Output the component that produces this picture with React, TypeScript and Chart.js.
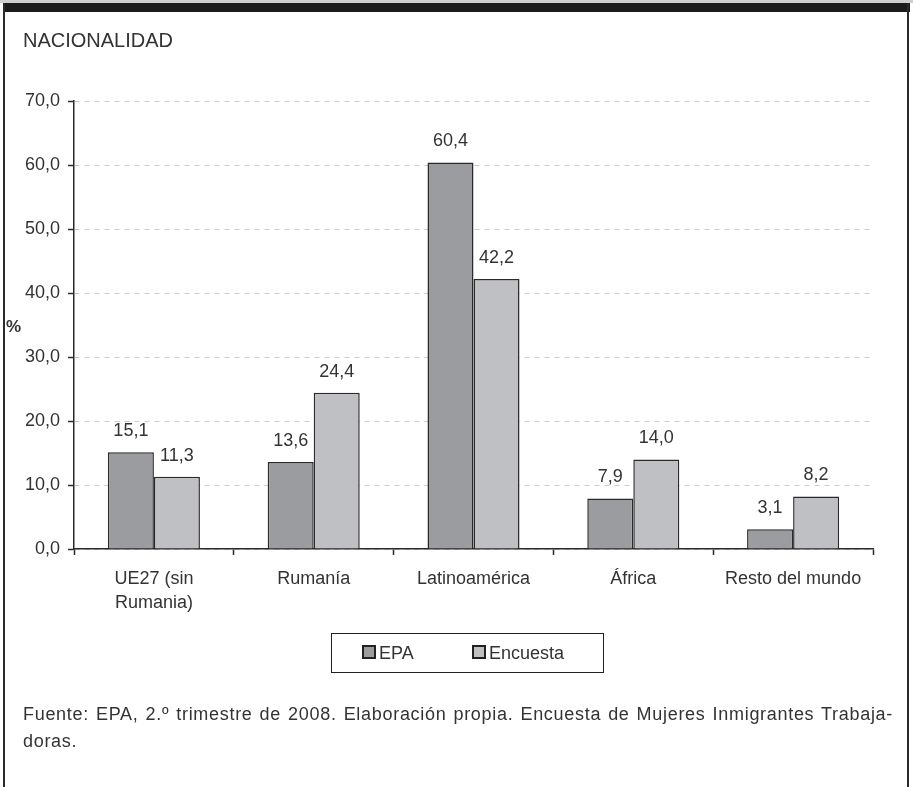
import React, { useEffect, useRef } from "react";
import { Chart, registerables } from "chart.js";

Chart.register(...registerables);

const categories: (string | string[])[] = [
  ["UE27 (sin", "Rumania)"],
  "Rumanía",
  "Latinoamérica",
  "África",
  "Resto del mundo",
];
const epaValues = [15.1, 13.6, 60.4, 7.9, 3.1];
const encuestaValues = [11.3, 24.4, 42.2, 14.0, 8.2];
const seriesNames = ["EPA", "Encuesta"];
const yTicks = { min: 0, max: 70, step: 10 };

const FONT = "'Liberation Sans', Arial, Helvetica, sans-serif";
const TEXT = "#333333";
const DARK = "#9b9ca0";
const LIGHT = "#bfc0c4";
const EDGE = "#2a2a2a";

const fmt = (v: number) => v.toFixed(1).replace(".", ",");

const valueLabels = {
  id: "valueLabels",
  afterDatasetsDraw(chart: any) {
    const ctx = chart.ctx;
    ctx.save();
    ctx.font = `18px ${FONT}`;
    ctx.fillStyle = TEXT;
    ctx.textAlign = "center";
    ctx.textBaseline = "middle";
    chart.data.datasets.forEach((ds: any, di: number) => {
      const meta = chart.getDatasetMeta(di);
      meta.data.forEach((bar: any, i: number) => {
        ctx.fillText(fmt(ds.data[i]), bar.x, bar.y - 21);
      });
    });
    ctx.restore();
  },
};

export default function App() {
  const ref = useRef<HTMLCanvasElement>(null);

  useEffect(() => {
    if (!ref.current) return;
    const chart = new Chart(ref.current, {
      type: "bar",
      data: {
        labels: categories,
        datasets: [
          {
            label: seriesNames[0],
            data: epaValues,
            backgroundColor: DARK,
            borderColor: EDGE,
            borderWidth: 1.5,
            categoryPercentage: 0.576,
            barPercentage: 1,
          },
          {
            label: seriesNames[1],
            data: encuestaValues,
            backgroundColor: LIGHT,
            borderColor: EDGE,
            borderWidth: 1.5,
            categoryPercentage: 0.576,
            barPercentage: 1,
          },
        ],
      },
      options: {
        animation: false,
        responsive: false,
        maintainAspectRatio: false,
        layout: { padding: { top: 101, right: 40, left: 0, bottom: 0 } },
        plugins: {
          legend: { display: false },
          tooltip: { enabled: false },
          title: { display: false },
        },
        scales: {
          x: {
            offset: true,
            grid: {
              offset: true,
              drawOnChartArea: false,
              drawTicks: true,
              tickLength: 6,
              tickColor: EDGE,
              tickWidth: 1.5,
            },
            border: { display: true, color: EDGE, width: 1.5 },
            ticks: {
              color: TEXT,
              font: { family: FONT, size: 18, lineHeight: 1.33 },
              padding: 12,
              maxRotation: 0,
              autoSkip: false,
            },
            afterFit: (s: any) => {
              s.height = 787 - 549;
            },
          },
          y: {
            min: yTicks.min,
            max: yTicks.max,
            ticks: {
              stepSize: yTicks.step,
              color: TEXT,
              font: { family: FONT, size: 18 },
              padding: 8,
              callback: (v: any) => fmt(Number(v)),
            },
            grid: {
              color: "#cbcbcb",
              lineWidth: 1,
              drawTicks: true,
              tickLength: 6,
              tickColor: EDGE,
              tickWidth: 1.5,
            },
            border: { display: true, color: EDGE, width: 1.5, dash: [5, 5] },
            afterFit: (s: any) => {
              s.width = 74;
            },
          },
        },
      },
      plugins: [valueLabels],
    });
    return () => chart.destroy();
  }, []);

  const text: React.CSSProperties = {
    position: "absolute",
    fontFamily: FONT,
    color: TEXT,
    whiteSpace: "nowrap",
  };

  const swatch = (bg: string): React.CSSProperties => ({
    display: "inline-block",
    width: 10,
    height: 10,
    background: bg,
    border: "2px solid #222",
    marginRight: 3,
    verticalAlign: "middle",
    position: "relative",
    top: -2,
  });

  return (
    <div
      style={{
        position: "absolute",
        left: 0,
        top: 0,
        width: 913,
        height: 787,
        background: "#fff",
        overflow: "hidden",
      }}
    >
      <canvas ref={ref} width={913} height={787} style={{ position: "absolute", left: 0, top: 0 }} />
      {/* frame */}
      <div style={{ position: "absolute", left: 0, top: 0, width: 913, height: 3, background: "#cfcfcf" }} />
      <div style={{ position: "absolute", left: 3, top: 3, width: 907, height: 9, background: "#1c1c1c" }} />
      <div style={{ position: "absolute", left: 3, top: 3, width: 2, height: 784, background: "#2a2a2a" }} />
      <div style={{ position: "absolute", left: 907, top: 3, width: 2, height: 784, background: "#2a2a2a" }} />

      <div style={{ ...text, left: 23, top: 28, fontSize: 20, lineHeight: "24px" }}>NACIONALIDAD</div>
      <div style={{ ...text, left: 6, top: 316, fontSize: 17, fontWeight: "bold", lineHeight: "22px" }}>%</div>

      {/* legend */}
      <div
        style={{
          position: "absolute",
          left: 331,
          top: 633,
          width: 271,
          height: 38,
          border: "1.5px solid #222",
          fontFamily: FONT,
          color: TEXT,
          fontSize: 18,
        }}
      >
        <div style={{ ...text, left: 30, top: 8, lineHeight: "22px" }}>
          <span style={swatch(DARK)} />
          {seriesNames[0]}
        </div>
        <div style={{ ...text, left: 140, top: 8, lineHeight: "22px" }}>
          <span style={swatch(LIGHT)} />
          {seriesNames[1]}
        </div>
      </div>

      {/* footnote */}
      <div
        style={{
          ...text,
          left: 23,
          top: 701,
          width: 870,
          fontSize: 18,
          lineHeight: "27px",
          letterSpacing: "0.7px",
          whiteSpace: "normal",
        }}
      >
        <div style={{ textAlign: "justify", textAlignLast: "justify" as any }}>
          Fuente: EPA, 2.º trimestre de 2008. Elaboración propia. Encuesta de Mujeres Inmigrantes Trabaja-
        </div>
        <div>doras.</div>
      </div>
    </div>
  );
}
